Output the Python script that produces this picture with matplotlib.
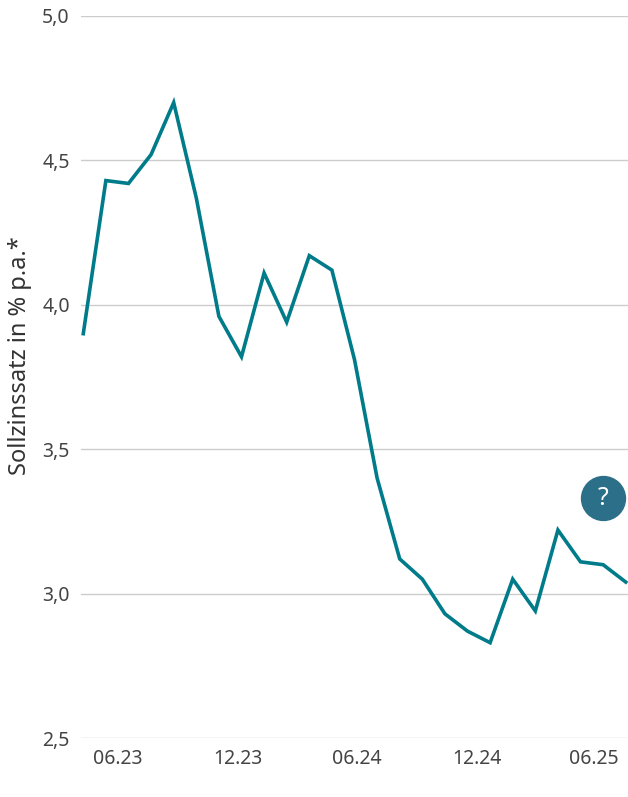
import matplotlib.pyplot as plt
import numpy as np

plt.rcParams['font.family'] = 'Noto Sans'

values = [3.90, 4.43, 4.42, 4.52, 4.70, 4.37, 3.96, 3.82, 4.11, 3.94, 4.17, 4.12,
          3.81, 3.40, 3.12, 3.05, 2.93, 2.87, 2.83, 3.05, 2.94, 3.22, 3.11, 3.10, 3.04]
tick_pos = [1.52, 6.83, 12.1, 17.4, 22.6]
tick_labels = ['06.23', '12.23', '06.24', '12.24', '06.25']
yticks = [2.5, 3.0, 3.5, 4.0, 4.5, 5.0]

fig = plt.figure(figsize=(6.28, 7.97), dpi=100)
ax = fig.add_axes([0.129, 0.074, 0.871, 0.906])

x = np.arange(len(values))
ax.plot(x, values, color='#007b8a', lw=2.6, solid_joinstyle='miter', zorder=3)

ax.set_ylim(2.5, 5.0)
ax.set_xlim(-0.1, 24.1)
ax.set_yticks(yticks)
ax.set_yticklabels([f'{v:.1f}'.replace('.', ',') for v in yticks])
ax.set_xticks(tick_pos)
ax.set_xticklabels(tick_labels)
ax.tick_params(length=0, labelsize=14, colors='#444444', pad=8)
ax.grid(axis='y', color='#cccccc', lw=1)
for s in ax.spines.values():
    s.set_visible(False)
ax.set_ylabel('Sollzinssatz in % p.a.*', fontsize=17, color='#333333')
ax.yaxis.set_label_coords(-0.09, 0.53)

# question mark badge
ax.scatter([23.0], [3.33], s=1000, color='#2b6f88', zorder=4)
ax.text(23.0, 3.33, '?', color='white', fontsize=18, ha='center', va='center', zorder=5)

fig.savefig('out.png', dpi=100)
